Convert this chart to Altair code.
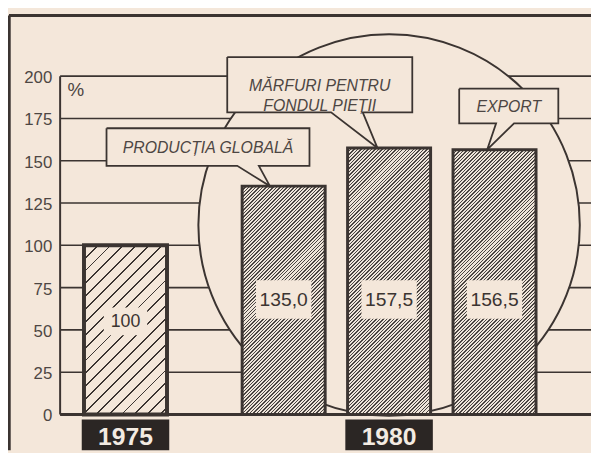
import math
import altair as alt
import pandas as pd

# ------------------------------------------------------------------ data
series = ["1975", "PRODUCȚIA GLOBALĂ", "MĂRFURI PENTRU FONDUL PIEȚII", "EXPORT"]
period = [1975, 1980, 1980, 1980]
values = [100.0, 135.0, 157.5, 156.5]
value_text = ["100", "135,0", "157,5", "156,5"]
y_ticks = [0, 25, 50, 75, 100, 125, 150, 175, 200]
year_text = ["1975", "1980"]
year_pos = [1975, 1980]
callout_lines = [["PRODUCȚIA GLOBALĂ"], ["MĂRFURI PENTRU", "FONDUL PIEȚII"], ["EXPORT"]]
unit_text = "%"

# ------------------------------------------------------------------ layout / style
BG = "#f4e7da"
INK = "#3b3431"
LABEL_INK = "#4d4643"
BOX = "#2b2624"
BOX_TEXT = "#f3ebe2"
SANS = "Liberation Sans, Arial, sans-serif"

W, H = 589, 440
X_DOMAIN = [1972.79, 1983.83]
Y_DOMAIN = [-21.2, 235.8]
PXX = W / (X_DOMAIN[1] - X_DOMAIN[0])
PXY = H / (Y_DOMAIN[1] - Y_DOMAIN[0])
GROUP_STEP = 2.0
AXIS_X = 1973.76
BAR_W = 84
LABEL_Y = {1975: 55, 1980: 68}
LABEL_BOX = {1975: (22, 14), 1980: (28, 19.5)}   # half width / half height (px)
LABEL_SIZE = {1975: 18, 1980: 19.5}
CIRCLE_CENTER = (1980.0, 112.0)
CIRCLE_DIAM = 386
YEAR_BOX_HALF = 0.83
YEAR_BOX_TOP = -3.0
YEAR_TEXT_Y = -13.6
UNIT_POS = (1974.06, 192.0)
# callout geometry in data units: x0, x1, y_top, y_bottom, base_x0, base_x1, tip_x
callout_geom = [
    (1974.64, 1978.49, 169.2, 147.0, 1977.12, 1977.53, 1977.74),
    (1976.93, 1980.44, 211.3, 178.6, 1978.90, 1979.50, 1979.78),
    (1981.33, 1983.21, 192.6, 172.1, 1982.03, 1982.37, 1981.86),
]

XS = alt.Scale(domain=X_DOMAIN, nice=False, zero=False)
YS = alt.Scale(domain=Y_DOMAIN, nice=False, zero=False)


def X(f):
    return alt.X(f, type="quantitative", scale=XS, axis=None)


def Y(f):
    return alt.Y(f, type="quantitative", scale=YS, axis=None)


def hatch(w, h, per, dark, c_dark, c_light):
    r = h / w
    denom = w * (1 + r * r)
    df = per * math.sqrt(2)
    dd = dark * math.sqrt(2)
    stops = []
    f0 = 0.0
    while f0 < w + h + df:
        a = min(f0 / denom, 1.0)
        b = min((f0 + dd) / denom, 1.0)
        c = min((f0 + df) / denom, 1.0)
        stops += [(a, c_dark), (b, c_dark), (b, c_light), (c, c_light)]
        f0 += df
        if c >= 1.0:
            break
    return {
        "gradient": "linear", "x1": 0, "y1": 0, "x2": 1, "y2": r,
        "stops": [{"offset": round(o, 6), "color": col} for o, col in stops],
    }


# ------------------------------------------------------------------ tables
xc = []
for i, p in enumerate(period):
    if p == 1975:
        xc.append(1975.0)
    else:
        j = [k for k in range(len(period)) if period[k] == p].index(i)
        xc.append(1980.0 + GROUP_STEP * (j - 1))

bars = pd.DataFrame({
    "series": series, "period": period, "value": values, "label": value_text,
    "xc": xc,
})
bars["x0"] = bars["xc"] - BAR_W / 2 / PXX
bars["x1"] = bars["xc"] + BAR_W / 2 / PXX
bars["zero"] = 0.0
bars["ly"] = [LABEL_Y[p] for p in period]
bars["lx0"] = [x - LABEL_BOX[p][0] / PXX for x, p in zip(xc, period)]
bars["lx1"] = [x + LABEL_BOX[p][0] / PXX for x, p in zip(xc, period)]
bars["ly0"] = [LABEL_Y[p] - LABEL_BOX[p][1] / PXY for p in period]
bars["ly1"] = [LABEL_Y[p] + LABEL_BOX[p][1] / PXY for p in period]

grid = pd.DataFrame({"y": y_ticks, "x0": AXIS_X, "x1": X_DOMAIN[1],
                     "label": [str(t) for t in y_ticks]})

rows = []
for c, (g, lines) in enumerate(zip(callout_geom, callout_lines)):
    x0, x1, yt, yb, bx0, bx1, tx = g
    ty = values[c + 1]
    pts = [(x0, yt), (x1, yt), (x1, yb), (bx1, yb), (tx, ty), (bx0, yb), (x0, yb), (x0, yt)]
    for k, (px, py) in enumerate(pts):
        rows.append({"cid": c, "k": k, "x": px, "y": py})
callout_poly = pd.DataFrame(rows)
callout_txt = pd.DataFrame({
    "cid": [0, 1, 2],
    "x": [(g[0] + g[1]) / 2 for g in callout_geom],
    "y": [(g[2] + g[3]) / 2 for g in callout_geom],
    "text": callout_lines,
})

years = pd.DataFrame({"label": year_text, "x": year_pos})
years["x0"] = years["x"] - YEAR_BOX_HALF
years["x1"] = years["x"] + YEAR_BOX_HALF
years["y0"] = Y_DOMAIN[0]
years["y1"] = YEAR_BOX_TOP
years["ty"] = YEAR_TEXT_Y

# ------------------------------------------------------------------ layers
layers = []
# grid lines (0..200)
layers.append(alt.Chart(grid).mark_rule(color=INK, strokeWidth=1.6).encode(
    x=X("x0"), x2="x1", y=Y("y")))
# y tick labels
layers.append(alt.Chart(grid).mark_text(font=SANS, fontSize=17, color=LABEL_INK, align="right",
                                         baseline="middle", dx=-8, dy=2).encode(
    x=X("x0"), y=Y("y"), text="label:N"))
# circle
circ = pd.DataFrame({"x": [CIRCLE_CENTER[0]], "y": [CIRCLE_CENTER[1]]})
layers.append(alt.Chart(circ).mark_point(shape="circle", filled=False, fill=BG, fillOpacity=1,
                                         stroke=INK, strokeWidth=2, opacity=1,
                                         size=CIRCLE_DIAM ** 2).encode(x=X("x"), y=Y("y")))
# baseline
layers.append(alt.Chart(grid[grid.y == 0]).mark_rule(color=INK, strokeWidth=3).encode(
    x=X("x0"), x2="x1", y=Y("y")))
# y axis line
ax = pd.DataFrame({"x": [AXIS_X], "y0": [0], "y1": [200]})
layers.append(alt.Chart(ax).mark_rule(color=INK, strokeWidth=2).encode(
    x=X("x"), y=Y("y0"), y2="y1"))

# bars with hatch
for i in range(len(series)):
    p = period[i]
    h = values[i] * PXY
    if p == 1975:
        fill = hatch(BAR_W, h, 9.2, 1.4, INK, BG)
        sw = 4
    else:
        fill = hatch(BAR_W, h, 2.5, 1.05, "#4a4441", "#eee4d9")
        sw = 3
    layers.append(alt.Chart(bars.iloc[[i]]).mark_bar(fill=fill, stroke=INK, strokeWidth=sw).encode(
        x=X("x0"), x2="x1", y=Y("value"), y2="zero"))

# value label boxes and text
layers.append(alt.Chart(bars).mark_rect(fill=BG, stroke=None).encode(
    x=X("lx0"), x2="lx1", y=Y("ly0"), y2="ly1"))
for p in (1975, 1980):
    layers.append(alt.Chart(bars[bars.period == p]).mark_text(
        font=SANS, fontSize=LABEL_SIZE[p], color=INK, baseline="middle", align="center", dy=1).encode(
        x=X("xc"), y=Y("ly"), text="label:N"))

# callouts
layers.append(alt.Chart(callout_poly).mark_line(fill=BG, stroke=INK, strokeWidth=1.8,
                                                 strokeJoin="miter", interpolate="linear").encode(
    x=X("x"), y=Y("y"), detail="cid:N", order="k:Q"))
layers.append(alt.Chart(callout_txt).mark_text(font=SANS, fontStyle="italic", fontSize=16,
                                                color=LABEL_INK, baseline="middle", align="center",
                                                lineHeight=21, dy=1).encode(
    x=X("x"), y=Y("y"), text="text"))

# year boxes
layers.append(alt.Chart(years).mark_rect(fill=BOX).encode(
    x=X("x0"), x2="x1", y=Y("y0"), y2="y1"))
layers.append(alt.Chart(years).mark_text(font=SANS, fontWeight="bold", fontSize=25,
                                          color=BOX_TEXT, baseline="middle", align="center").encode(
    x=X("x"), y=Y("ty"), text="label:N"))

# unit label
unit = pd.DataFrame({"x": [UNIT_POS[0]], "y": [UNIT_POS[1]], "t": [unit_text]})
layers.append(alt.Chart(unit).mark_text(font=SANS, fontSize=19, color=LABEL_INK,
                                         baseline="middle", align="center").encode(
    x=X("x"), y=Y("y"), text="t:N"))

# frame (left and top)
frame_l = pd.DataFrame({"x": [X_DOMAIN[0]], "y0": [Y_DOMAIN[0]], "y1": [Y_DOMAIN[1]]})
frame_t = pd.DataFrame({"x0": [X_DOMAIN[0]], "x1": [X_DOMAIN[1]], "y": [Y_DOMAIN[1]]})
layers.append(alt.Chart(frame_l).mark_rule(color=INK, strokeWidth=3.5).encode(
    x=X("x"), y=Y("y0"), y2="y1"))
layers.append(alt.Chart(frame_t).mark_rule(color=INK, strokeWidth=3).encode(
    x=X("x0"), x2="x1", y=Y("y")))

chart = alt.layer(*layers).properties(
    width=W, height=H, autosize="none", background=BG,
    padding={"left": 1, "top": 5, "right": 0, "bottom": 0},
).configure_view(stroke=None)

chart.save("out.html", embed_options={"renderer": "svg", "actions": False})
